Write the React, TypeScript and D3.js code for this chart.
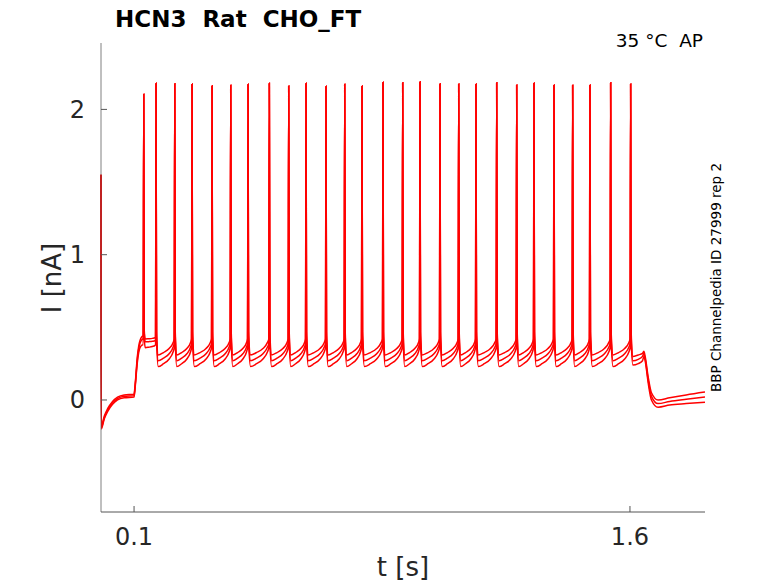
import * as d3 from 'd3'

// spike times (s) and peak currents (nA)
const spikeTimes = [
  0.1293, 0.1665, 0.2231, 0.2754, 0.3359, 0.3924, 0.4448, 0.5092, 0.5678,
  0.6202, 0.6806, 0.7372, 0.7895, 0.853, 0.9126, 0.9649, 1.0254, 1.082,
  1.1343, 1.1969, 1.2574, 1.3097, 1.3702, 1.4267, 1.479, 1.5416, 1.6021,
]
const spikePeaks = [
  2.104, 2.18, 2.177, 2.175, 2.163, 2.166, 2.173, 2.18, 2.161, 2.18, 2.159,
  2.173, 2.161, 2.187, 2.184, 2.191, 2.177, 2.175, 2.175, 2.184, 2.168,
  2.182, 2.168, 2.166, 2.168, 2.184, 2.175,
]

// holding + step onset
const onsetTimes = [0, 0.0008, 0.01, 0.02, 0.035, 0.05, 0.07, 0.1, 0.103, 0.11, 0.118, 0.127]
const onsetRep1 = [1.55, -0.18, -0.11, -0.06, -0.01, 0.02, 0.035, 0.04, 0.1, 0.3, 0.41, 0.44]
const onsetRep2 = [1.55, -0.19, -0.12, -0.07, -0.02, 0.01, 0.025, 0.03, 0.09, 0.28, 0.39, 0.42]
const onsetRep3 = [1.55, -0.2, -0.13, -0.08, -0.03, 0.0, 0.015, 0.02, 0.08, 0.26, 0.36, 0.38]

// inter-spike levels per rep: [first ISI trough, first ISI pre, trough, pre-spike]
const isiRep1 = [0.42, 0.43, 0.31, 0.42]
const isiRep2 = [0.4, 0.41, 0.27, 0.39]
const isiRep3 = [0.36, 0.38, 0.23, 0.36]

// step offset and recovery
const tailTimes = [1.609, 1.625, 1.638, 1.642, 1.646, 1.655, 1.665, 1.685, 1.72, 1.77, 1.827]
const tailRep1 = [0.3, 0.31, 0.32, 0.335, 0.3, 0.16, 0.05, 0.0, 0.015, 0.035, 0.055]
const tailRep2 = [0.27, 0.28, 0.3, 0.32, 0.285, 0.14, 0.025, -0.025, -0.01, 0.005, 0.02]
const tailRep3 = [0.24, 0.25, 0.27, 0.3, 0.27, 0.12, 0.0, -0.05, -0.035, -0.025, -0.015]

// shape of an inter-spike interval: [fraction of ISI, fraction of trough->pre rise]
const isiShape = [[0.12, 0], [0.4, 0.15], [0.7, 0.4], [0.92, 0.8]]

const xTicks = [0.1, 1.6]
const yTicks = [0, 1, 2]

const W = 778
const H = 583
const left = 101
const right = 705
const top = 43
const bottom = 512

function buildRep(onset: number[], isi: number[], tail: number[]) {
  const pts: [number, number][] = onsetTimes.map((t, i) => [t, onset[i]])
  spikeTimes.forEach((t, i) => {
    const first = i === 0
    const pre = first ? onset[onset.length - 1] : i === 1 ? isi[1] : isi[3]
    pts.push([t - 0.0015, pre])
    pts.push([t, spikePeaks[i]])
    if (i === spikeTimes.length - 1) return
    const trough = first ? isi[0] : isi[2]
    const nextPre = first ? isi[1] : isi[3]
    const dt = spikeTimes[i + 1] - t
    pts.push([t + 0.0015, nextPre + 0.05])
    isiShape.forEach(([f, r]) => pts.push([t + f * dt, trough + r * (nextPre - trough)]))
  })
  pts.push([spikeTimes[spikeTimes.length - 1] + 0.0015, isi[3] + 0.05])
  tailTimes.forEach((t, i) => pts.push([t, tail[i]]))
  return pts
}

const reps = [
  buildRep(onsetRep3, isiRep3, tailRep3),
  buildRep(onsetRep2, isiRep2, tailRep2),
  buildRep(onsetRep1, isiRep1, tailRep1),
]

export default function App() {
  const x = d3.scaleLinear().domain([0, 1.827]).range([left, right])
  const y = d3.scaleLinear().domain([-0.771, 2.457]).range([bottom, top])
  const line = d3
    .line<[number, number]>()
    .x(d => x(d[0]))
    .y(d => y(d[1]))
    .curve(d3.curveMonotoneX)

  const axisColor = '#555'
  const textColor = '#262626'
  const font = 'DejaVu Sans, sans-serif'

  return (
    <div style={{ position: 'absolute', left: 0, top: 0 }}>
      <svg width={W} height={H} style={{ display: 'block', background: '#fff' }} fontFamily={font}>
        <defs>
          <clipPath id="plot">
            <rect x={left - 1} y={top} width={right - left + 1} height={bottom - top} />
          </clipPath>
        </defs>

        <g clipPath="url(#plot)">
          {reps.map((pts, i) => (
            <path key={i} d={line(pts) ?? ''} fill="none" stroke="#ff0000" strokeWidth={1.5} />
          ))}
        </g>

        {/* axes */}
        <line x1={left} x2={left} y1={top} y2={bottom} stroke={axisColor} strokeOpacity={0.75} />
        <line x1={left} x2={right} y1={bottom} y2={bottom} stroke={axisColor} />

        {xTicks.map(t => (
          <g key={t}>
            <line x1={x(t)} x2={x(t)} y1={bottom} y2={bottom - 6} stroke={axisColor} />
            <text x={x(t)} y={545} textAnchor="middle" fontSize={24} fill={textColor}>
              {t.toFixed(1)}
            </text>
          </g>
        ))}
        {yTicks.map(t => (
          <g key={t}>
            <line x1={left} x2={left + 6} y1={y(t)} y2={y(t)} stroke={axisColor} />
            <text x={85} y={y(t) + 8.5} textAnchor="end" fontSize={24} fill={textColor}>
              {t}
            </text>
          </g>
        ))}

        <text x={403} y={576} textAnchor="middle" fontSize={26} fill={textColor}>
          t [s]
        </text>
        <text
          transform={`translate(61,${278}) rotate(-90)`}
          textAnchor="middle"
          fontSize={26}
          fill={textColor}
        >
          I [nA]
        </text>

        <text x={115} y={27} fontSize={23} fontWeight="bold" fill="#000" style={{ whiteSpace: 'pre' }}>
          {'HCN3  Rat  CHO_FT'}
        </text>
        <text x={703} y={47} textAnchor="end" fontSize={18.5} fill="#000" style={{ whiteSpace: 'pre' }}>
          {'35 °C  AP'}
        </text>
        <text
          transform={`translate(721,${277.5}) rotate(-90)`}
          textAnchor="middle"
          fontSize={13.5}
          fill="#000"
        >
          BBP Channelpedia ID 27999 rep 2
        </text>
      </svg>
    </div>
  )
}
